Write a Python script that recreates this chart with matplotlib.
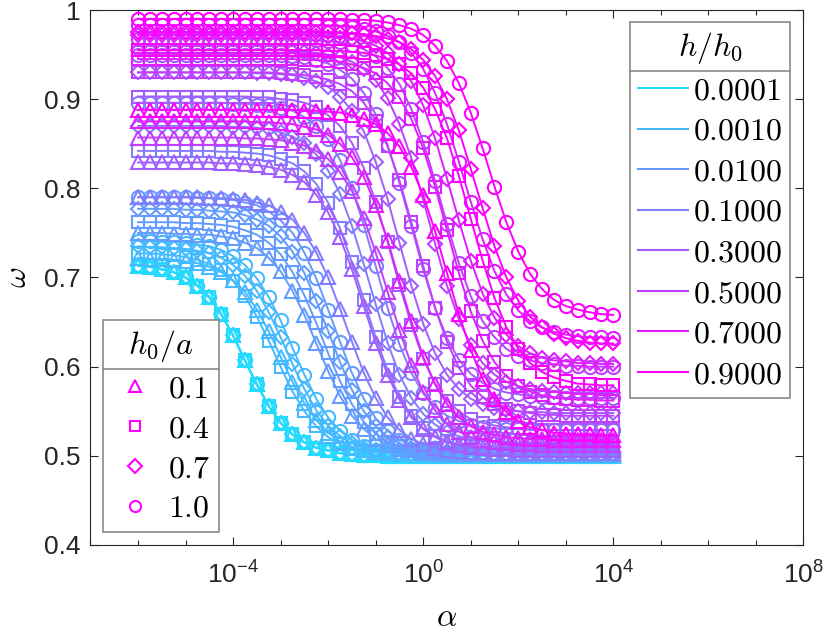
import matplotlib
matplotlib.use('Agg')
import matplotlib.pyplot as plt
from matplotlib.lines import Line2D

plt.rcParams['font.family'] = ['Liberation Sans', 'DejaVu Sans']
plt.rcParams['mathtext.fontset'] = 'cm'

# ---------------- data ----------------
alpha_exp = [-6.0, -5.75, -5.5, -5.25, -5.0, -4.75, -4.5, -4.25, -4.0, -3.75,
             -3.5, -3.25, -3.0, -2.75, -2.5, -2.25, -2.0, -1.75, -1.5, -1.25,
             -1.0, -0.75, -0.5, -0.25, 0.0, 0.25, 0.5, 0.75, 1.0, 1.25,
             1.5, 1.75, 2.0, 2.25, 2.5, 2.75, 3.0, 3.25, 3.5, 3.75, 4.0]

hh0_labels = ['0.0001', '0.0010', '0.0100', '0.1000', '0.3000', '0.5000', '0.7000', '0.9000']
h0a_labels = ['0.1', '0.4', '0.7', '1.0']
line_colors = ['#26D9FF', '#45BAFF', '#649BFF', '#837CFF', '#A25DFF', '#C13EFF', '#E01FFF', '#FF00FF']
markers = ['^', 's', 'D', 'o']
marker_sizes = [10.0, 8.5, 7.5, 9.5]
legend_marker_sizes = [9.0, 6.5, 7.5, 8.0]

# each array: curves for h0/a = 0.1 (triangle), 0.4 (square), 0.7 (diamond), 1.0 (circle)
omega_hh0_0p0001_curve = [
    0.713, 0.712, 0.709, 0.706, 0.700, 0.691, 0.678, 0.659, 0.635, 0.607,
    0.580, 0.556, 0.537, 0.524, 0.515, 0.509, 0.506, 0.503, 0.502, 0.501,
    0.501, 0.500, 0.500, 0.500, 0.500, 0.500, 0.500, 0.500, 0.500, 0.500,
    0.500, 0.500, 0.500, 0.500, 0.500, 0.500, 0.500, 0.500, 0.500, 0.500,
    0.500]
omega_hh0_0p0001 = [omega_hh0_0p0001_curve, omega_hh0_0p0001_curve,
                    omega_hh0_0p0001_curve, omega_hh0_0p0001_curve]

omega_hh0_0p001 = [
    [0.722, 0.721, 0.721, 0.720, 0.718, 0.716, 0.712, 0.706, 0.697, 0.684,
     0.664, 0.640, 0.611, 0.583, 0.559, 0.540, 0.526, 0.516, 0.510, 0.507,
     0.504, 0.503, 0.502, 0.502, 0.501, 0.501, 0.501, 0.501, 0.501, 0.501,
     0.501, 0.501, 0.501, 0.501, 0.501, 0.501, 0.501, 0.501, 0.501, 0.501,
     0.501],
    [0.727, 0.727, 0.726, 0.725, 0.723, 0.720, 0.715, 0.708, 0.696, 0.679,
     0.656, 0.629, 0.600, 0.572, 0.550, 0.533, 0.521, 0.513, 0.508, 0.505,
     0.504, 0.503, 0.502, 0.502, 0.501, 0.501, 0.501, 0.501, 0.501, 0.501,
     0.501, 0.501, 0.501, 0.501, 0.501, 0.501, 0.501, 0.501, 0.501, 0.501,
     0.501],
    [0.735, 0.734, 0.734, 0.733, 0.732, 0.730, 0.727, 0.722, 0.714, 0.702,
     0.685, 0.661, 0.633, 0.603, 0.575, 0.551, 0.534, 0.522, 0.514, 0.509,
     0.506, 0.504, 0.503, 0.502, 0.502, 0.501, 0.501, 0.501, 0.501, 0.501,
     0.501, 0.501, 0.501, 0.501, 0.501, 0.501, 0.501, 0.501, 0.501, 0.501,
     0.501],
    [0.741, 0.741, 0.740, 0.740, 0.739, 0.737, 0.735, 0.731, 0.724, 0.714,
     0.699, 0.678, 0.652, 0.621, 0.591, 0.564, 0.543, 0.528, 0.518, 0.511,
     0.507, 0.505, 0.503, 0.502, 0.502, 0.501, 0.501, 0.501, 0.501, 0.501,
     0.501, 0.501, 0.501, 0.501, 0.501, 0.501, 0.501, 0.501, 0.501, 0.501,
     0.501]]

omega_hh0_0p01 = [
    [0.750, 0.750, 0.750, 0.749, 0.749, 0.748, 0.748, 0.746, 0.744, 0.739,
     0.733, 0.722, 0.707, 0.685, 0.658, 0.626, 0.595, 0.567, 0.545, 0.530,
     0.519, 0.513, 0.508, 0.506, 0.504, 0.503, 0.503, 0.502, 0.502, 0.502,
     0.502, 0.502, 0.502, 0.502, 0.502, 0.502, 0.502, 0.502, 0.502, 0.502,
     0.502],
    [0.762, 0.762, 0.762, 0.762, 0.761, 0.761, 0.760, 0.759, 0.757, 0.753,
     0.748, 0.739, 0.726, 0.706, 0.680, 0.649, 0.615, 0.584, 0.558, 0.538,
     0.525, 0.516, 0.511, 0.507, 0.505, 0.504, 0.503, 0.503, 0.502, 0.502,
     0.502, 0.502, 0.502, 0.502, 0.502, 0.502, 0.502, 0.502, 0.502, 0.502,
     0.502],
    [0.777, 0.777, 0.777, 0.777, 0.776, 0.776, 0.775, 0.774, 0.773, 0.770,
     0.765, 0.758, 0.746, 0.729, 0.705, 0.674, 0.640, 0.605, 0.574, 0.550,
     0.533, 0.521, 0.514, 0.509, 0.506, 0.504, 0.504, 0.503, 0.503, 0.502,
     0.502, 0.502, 0.502, 0.502, 0.502, 0.502, 0.502, 0.502, 0.502, 0.502,
     0.502],
    [0.790, 0.790, 0.790, 0.790, 0.790, 0.789, 0.789, 0.788, 0.787, 0.784,
     0.781, 0.774, 0.764, 0.750, 0.728, 0.699, 0.664, 0.628, 0.593, 0.564,
     0.542, 0.528, 0.518, 0.512, 0.508, 0.506, 0.504, 0.503, 0.503, 0.502,
     0.502, 0.502, 0.502, 0.502, 0.502, 0.502, 0.502, 0.502, 0.502, 0.502,
     0.502]]

omega_hh0_0p1 = [
    [0.790, 0.790, 0.790, 0.790, 0.790, 0.790, 0.789, 0.789, 0.788, 0.787,
     0.784, 0.781, 0.774, 0.765, 0.750, 0.728, 0.700, 0.665, 0.628, 0.593,
     0.565, 0.543, 0.529, 0.519, 0.513, 0.509, 0.506, 0.505, 0.504, 0.504,
     0.503, 0.503, 0.503, 0.503, 0.503, 0.503, 0.503, 0.503, 0.503, 0.503,
     0.503],
    [0.842, 0.842, 0.842, 0.842, 0.842, 0.842, 0.842, 0.841, 0.841, 0.840,
     0.839, 0.837, 0.833, 0.828, 0.819, 0.805, 0.784, 0.755, 0.717, 0.675,
     0.633, 0.596, 0.566, 0.545, 0.531, 0.522, 0.517, 0.513, 0.511, 0.510,
     0.509, 0.509, 0.508, 0.508, 0.508, 0.508, 0.508, 0.508, 0.508, 0.508,
     0.508],
    [0.870, 0.870, 0.870, 0.870, 0.870, 0.870, 0.870, 0.870, 0.869, 0.869,
     0.868, 0.866, 0.863, 0.858, 0.851, 0.838, 0.820, 0.794, 0.758, 0.715,
     0.670, 0.627, 0.591, 0.565, 0.547, 0.535, 0.527, 0.522, 0.519, 0.518,
     0.516, 0.516, 0.515, 0.515, 0.515, 0.515, 0.515, 0.515, 0.515, 0.515,
     0.515],
    [0.896, 0.896, 0.896, 0.896, 0.896, 0.896, 0.896, 0.896, 0.895, 0.895,
     0.894, 0.893, 0.890, 0.887, 0.880, 0.870, 0.855, 0.832, 0.800, 0.759,
     0.713, 0.666, 0.625, 0.593, 0.570, 0.555, 0.545, 0.539, 0.535, 0.532,
     0.531, 0.530, 0.530, 0.529, 0.529, 0.529, 0.529, 0.529, 0.529, 0.529,
     0.529]]

omega_hh0_0p3 = [
    [0.829, 0.829, 0.829, 0.829, 0.829, 0.829, 0.829, 0.828, 0.828, 0.827,
     0.826, 0.824, 0.821, 0.815, 0.807, 0.793, 0.773, 0.745, 0.709, 0.668,
     0.627, 0.591, 0.563, 0.543, 0.530, 0.521, 0.515, 0.512, 0.510, 0.509,
     0.508, 0.508, 0.507, 0.507, 0.507, 0.507, 0.507, 0.507, 0.507, 0.507,
     0.507],
    [0.903, 0.903, 0.903, 0.903, 0.903, 0.903, 0.903, 0.903, 0.903, 0.903,
     0.902, 0.902, 0.900, 0.899, 0.896, 0.891, 0.882, 0.870, 0.851, 0.823,
     0.785, 0.740, 0.692, 0.647, 0.609, 0.581, 0.562, 0.550, 0.541, 0.537,
     0.534, 0.532, 0.531, 0.530, 0.529, 0.529, 0.529, 0.529, 0.529, 0.529,
     0.529],
    [0.930, 0.930, 0.930, 0.930, 0.930, 0.930, 0.930, 0.930, 0.930, 0.930,
     0.929, 0.929, 0.928, 0.927, 0.924, 0.920, 0.914, 0.903, 0.887, 0.864,
     0.830, 0.788, 0.739, 0.691, 0.648, 0.615, 0.591, 0.575, 0.564, 0.558,
     0.554, 0.551, 0.550, 0.549, 0.549, 0.548, 0.548, 0.548, 0.548, 0.548,
     0.548],
    [0.950, 0.950, 0.950, 0.950, 0.950, 0.950, 0.950, 0.950, 0.950, 0.950,
     0.950, 0.949, 0.949, 0.948, 0.947, 0.944, 0.940, 0.933, 0.923, 0.907,
     0.883, 0.849, 0.806, 0.758, 0.709, 0.666, 0.632, 0.608, 0.592, 0.582,
     0.575, 0.571, 0.569, 0.567, 0.566, 0.566, 0.565, 0.565, 0.565, 0.565,
     0.565]]

omega_hh0_0p5 = [
    [0.857, 0.857, 0.857, 0.857, 0.857, 0.857, 0.857, 0.857, 0.857, 0.856,
     0.856, 0.855, 0.854, 0.851, 0.848, 0.842, 0.833, 0.818, 0.797, 0.767,
     0.728, 0.684, 0.641, 0.602, 0.572, 0.551, 0.536, 0.527, 0.521, 0.518,
     0.515, 0.514, 0.513, 0.513, 0.512, 0.512, 0.512, 0.512, 0.512, 0.512,
     0.512],
    [0.930, 0.930, 0.930, 0.930, 0.930, 0.930, 0.930, 0.930, 0.930, 0.930,
     0.930, 0.930, 0.929, 0.928, 0.927, 0.925, 0.922, 0.917, 0.909, 0.896,
     0.876, 0.847, 0.809, 0.762, 0.713, 0.666, 0.628, 0.599, 0.579, 0.566,
     0.558, 0.553, 0.550, 0.548, 0.546, 0.546, 0.545, 0.545, 0.545, 0.545,
     0.545],
    [0.955, 0.955, 0.955, 0.955, 0.955, 0.955, 0.955, 0.955, 0.955, 0.955,
     0.955, 0.955, 0.955, 0.954, 0.953, 0.952, 0.950, 0.947, 0.942, 0.934,
     0.921, 0.901, 0.872, 0.834, 0.787, 0.738, 0.691, 0.653, 0.624, 0.604,
     0.591, 0.583, 0.578, 0.575, 0.573, 0.572, 0.571, 0.570, 0.570, 0.570,
     0.570],
    [0.968, 0.968, 0.968, 0.968, 0.968, 0.968, 0.968, 0.968, 0.968, 0.968,
     0.968, 0.968, 0.968, 0.968, 0.967, 0.966, 0.965, 0.964, 0.961, 0.956,
     0.948, 0.935, 0.917, 0.889, 0.852, 0.808, 0.760, 0.716, 0.679, 0.651,
     0.633, 0.620, 0.612, 0.607, 0.604, 0.603, 0.601, 0.601, 0.600, 0.600,
     0.600]]

omega_hh0_0p7 = [
    [0.875, 0.875, 0.875, 0.875, 0.875, 0.875, 0.875, 0.875, 0.875, 0.875,
     0.874, 0.874, 0.873, 0.872, 0.869, 0.866, 0.860, 0.850, 0.835, 0.813,
     0.781, 0.742, 0.696, 0.651, 0.611, 0.580, 0.558, 0.543, 0.533, 0.527,
     0.524, 0.521, 0.520, 0.519, 0.519, 0.518, 0.518, 0.518, 0.518, 0.518,
     0.518],
    [0.945, 0.945, 0.945, 0.945, 0.945, 0.945, 0.945, 0.945, 0.945, 0.945,
     0.945, 0.945, 0.945, 0.945, 0.944, 0.944, 0.943, 0.942, 0.939, 0.935,
     0.929, 0.918, 0.902, 0.878, 0.845, 0.802, 0.753, 0.705, 0.662, 0.629,
     0.605, 0.589, 0.578, 0.572, 0.568, 0.565, 0.564, 0.563, 0.563, 0.562,
     0.562],
    [0.972, 0.972, 0.972, 0.972, 0.972, 0.972, 0.972, 0.972, 0.972, 0.972,
     0.972, 0.972, 0.972, 0.972, 0.972, 0.971, 0.970, 0.969, 0.968, 0.965,
     0.960, 0.952, 0.939, 0.920, 0.893, 0.856, 0.811, 0.764, 0.719, 0.682,
     0.655, 0.636, 0.623, 0.615, 0.610, 0.607, 0.606, 0.604, 0.604, 0.603,
     0.603],
    [0.983, 0.983, 0.983, 0.983, 0.983, 0.983, 0.983, 0.983, 0.983, 0.983,
     0.983, 0.983, 0.983, 0.983, 0.983, 0.983, 0.982, 0.982, 0.981, 0.979,
     0.976, 0.971, 0.964, 0.952, 0.934, 0.907, 0.872, 0.830, 0.785, 0.743,
     0.707, 0.681, 0.663, 0.651, 0.644, 0.639, 0.636, 0.634, 0.633, 0.633,
     0.632]]

omega_hh0_0p9 = [
    [0.888, 0.888, 0.888, 0.888, 0.888, 0.888, 0.888, 0.888, 0.888, 0.888,
     0.888, 0.888, 0.888, 0.888, 0.887, 0.887, 0.886, 0.885, 0.882, 0.878,
     0.872, 0.862, 0.847, 0.824, 0.792, 0.752, 0.705, 0.659, 0.619, 0.586,
     0.564, 0.549, 0.539, 0.532, 0.529, 0.526, 0.525, 0.524, 0.524, 0.523,
     0.523],
    [0.955, 0.955, 0.955, 0.955, 0.955, 0.955, 0.955, 0.955, 0.955, 0.955,
     0.955, 0.955, 0.955, 0.955, 0.955, 0.955, 0.954, 0.954, 0.953, 0.952,
     0.949, 0.945, 0.939, 0.929, 0.913, 0.889, 0.856, 0.814, 0.766, 0.719,
     0.677, 0.644, 0.620, 0.604, 0.594, 0.588, 0.584, 0.581, 0.580, 0.579,
     0.579],
    [0.975, 0.975, 0.975, 0.975, 0.975, 0.975, 0.975, 0.975, 0.975, 0.975,
     0.975, 0.975, 0.975, 0.975, 0.975, 0.975, 0.975, 0.974, 0.974, 0.973,
     0.971, 0.968, 0.964, 0.956, 0.944, 0.926, 0.900, 0.865, 0.822, 0.778,
     0.735, 0.700, 0.674, 0.656, 0.644, 0.637, 0.632, 0.629, 0.627, 0.626,
     0.626],
    [0.990, 0.990, 0.990, 0.990, 0.990, 0.990, 0.990, 0.990, 0.990, 0.990,
     0.990, 0.990, 0.990, 0.990, 0.990, 0.990, 0.990, 0.990, 0.989, 0.989,
     0.988, 0.986, 0.983, 0.979, 0.972, 0.960, 0.943, 0.918, 0.885, 0.845,
     0.802, 0.762, 0.729, 0.704, 0.687, 0.675, 0.668, 0.664, 0.661, 0.659,
     0.658]]

omega_by_hh0 = [omega_hh0_0p0001, omega_hh0_0p001, omega_hh0_0p01, omega_hh0_0p1,
                omega_hh0_0p3, omega_hh0_0p5, omega_hh0_0p7, omega_hh0_0p9]

xtick_vals = [1e-4, 1e0, 1e4, 1e8]
xtick_labels = [r'$\mathregular{10^{-4}}$', r'$\mathregular{10^{0}}$',
                r'$\mathregular{10^{4}}$', r'$\mathregular{10^{8}}$']
ytick_vals = [0.4, 0.5, 0.6, 0.7, 0.8, 0.9, 1.0]
ytick_labels = ['0.4', '0.5', '0.6', '0.7', '0.8', '0.9', '1']

# ---------------- plot ----------------
alpha = [10.0 ** e for e in alpha_exp]
fig = plt.figure(figsize=(8.3, 6.38), dpi=100)
ax = fig.add_axes([0.109, 0.1458, 0.859, 0.8385])

for i, curves in enumerate(omega_by_hh0):
    for j, yv in enumerate(curves):
        ax.plot(alpha, yv, color=line_colors[i], marker=markers[j],
                ms=marker_sizes[j], mfc='none', mec=line_colors[i],
                mew=1.5, lw=1.4)

ax.set_xscale('log')
ax.set_xlim(1e-7, 1e8)
ax.set_ylim(0.4, 1.0)
ax.set_xticks(xtick_vals)
ax.set_xticklabels(xtick_labels)
ax.set_xticks([10.0 ** e for e in range(-7, 9)], minor=True)
ax.set_xticklabels([], minor=True)
ax.set_yticks(ytick_vals)
ax.set_yticklabels(ytick_labels)

dark = '#262626'
for s in ax.spines.values():
    s.set_color(dark)
    s.set_linewidth(0.8)
ax.tick_params(which='both', direction='in', top=True, right=True, colors=dark,
               labelcolor=dark, width=0.8)
ax.tick_params(which='major', length=6, labelsize=19)
ax.tick_params(axis='x', which='major', pad=12)
ax.tick_params(axis='y', which='major', pad=7)
ax.tick_params(which='minor', length=3.5)

ax.set_xlabel(r'$\alpha$', fontsize=23, labelpad=10)
ax.set_ylabel(r'$\omega$', fontsize=23, labelpad=8)

frame_col = '#8a8a8a'
leg1 = ax.legend(handles=[Line2D([0], [0], color=c, lw=1.5) for c in line_colors],
                 labels=[r'$' + l + r'$' for l in hh0_labels],
                 title=r'$h/h_0$', loc='upper right', bbox_to_anchor=(0.981, 0.978),
                 fontsize=23, title_fontsize=23, frameon=True, fancybox=False,
                 edgecolor=frame_col, framealpha=1, handlelength=1.55,
                 handletextpad=0.15, labelspacing=0.33, borderpad=0.25,
                 borderaxespad=0)
leg1.get_frame().set_linewidth(1.2)
ax.add_artist(leg1)

leg2 = ax.legend(handles=[Line2D([0], [0], color='#FF00FF', marker=m, ls='none',
                                 mfc='none', mec='#FF00FF', mew=1.5, ms=s)
                          for m, s in zip(markers, legend_marker_sizes)],
                 labels=[r'$' + l + r'$' for l in h0a_labels],
                 title=r'$h_0/a$', loc='lower left', bbox_to_anchor=(0.0175, 0.0243),
                 fontsize=23, title_fontsize=23, frameon=True, fancybox=False,
                 edgecolor=frame_col, framealpha=1, handlelength=1.5,
                 handletextpad=0.3, labelspacing=0.31, borderpad=0.25,
                 borderaxespad=0)
leg2.get_frame().set_linewidth(1.2)

fig.canvas.draw()
rend = fig.canvas.get_renderer()
inv = fig.transFigure.inverted()
for leg in (leg1, leg2):
    fb = leg.get_frame().get_window_extent(rend)
    tb = leg.get_title().get_window_extent(rend)
    first = leg.get_texts()[0].get_window_extent(rend)
    yline = 0.5 * (tb.y0 + first.y1)
    p0 = inv.transform((fb.x0, yline))
    p1 = inv.transform((fb.x1, yline))
    fig.add_artist(Line2D([p0[0], p1[0]], [p0[1], p1[1]], transform=fig.transFigure,
                          color=frame_col, lw=1.2, zorder=10))

fig.savefig('out.png', dpi=100)
